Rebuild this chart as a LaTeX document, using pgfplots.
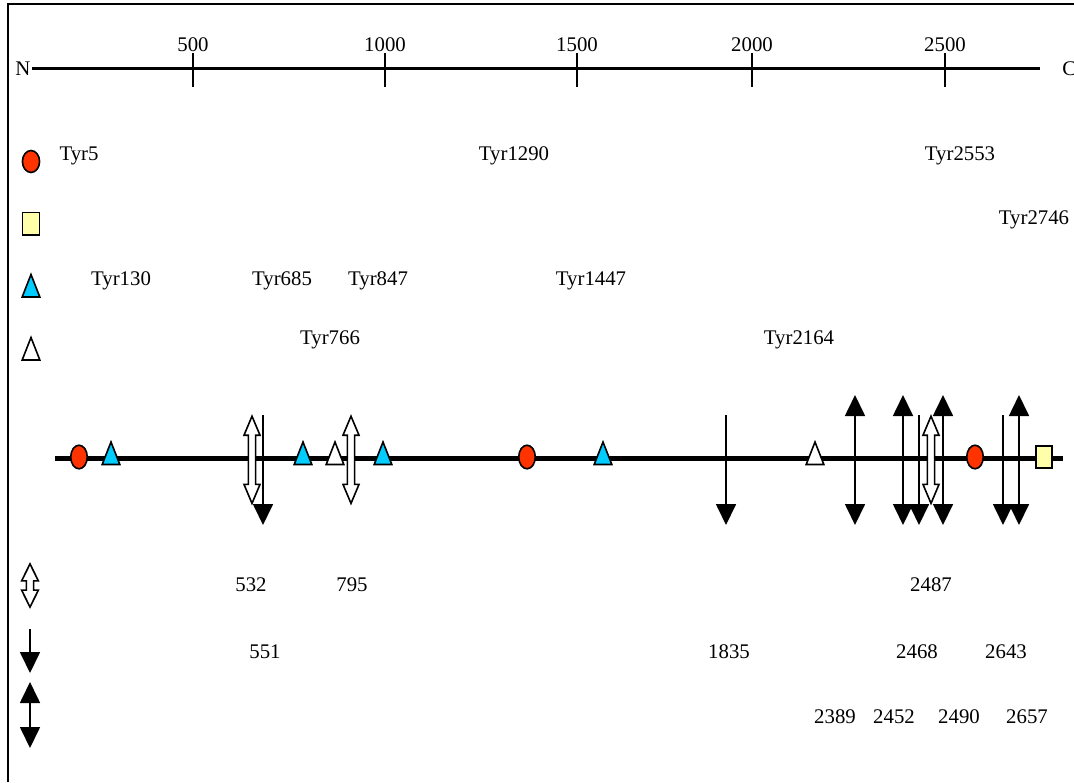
\documentclass[border=0pt]{standalone}
\usepackage{fontspec}
\setmainfont{Liberation Serif}
\usepackage{pgfplots}
\pgfplotsset{compat=1.18}
\usetikzlibrary{arrows.meta}

\definecolor{tyrred}{RGB}{255,51,0}
\definecolor{tyrblue}{RGB}{0,204,255}
\definecolor{tyryel}{RGB}{255,255,170}

% hollow double-headed block arrow (units: pt, 1px = 0.5pt)
\pgfdeclareplotmark{dblopen}{%
  \pgfpathmoveto{\pgfqpoint{0pt}{21.8pt}}%
  \pgfpathlineto{\pgfqpoint{4pt}{12.3pt}}%
  \pgfpathlineto{\pgfqpoint{1.8pt}{12.3pt}}%
  \pgfpathlineto{\pgfqpoint{1.8pt}{-12.3pt}}%
  \pgfpathlineto{\pgfqpoint{4pt}{-12.3pt}}%
  \pgfpathlineto{\pgfqpoint{0pt}{-21.8pt}}%
  \pgfpathlineto{\pgfqpoint{-4pt}{-12.3pt}}%
  \pgfpathlineto{\pgfqpoint{-1.8pt}{-12.3pt}}%
  \pgfpathlineto{\pgfqpoint{-1.8pt}{12.3pt}}%
  \pgfpathlineto{\pgfqpoint{-4pt}{12.3pt}}%
  \pgfpathclose
  \pgfusepathqfillstroke
}
% shorter version for the key
\pgfdeclareplotmark{dblopenkey}{%
  \pgfpathmoveto{\pgfqpoint{0pt}{10.8pt}}%
  \pgfpathlineto{\pgfqpoint{4.2pt}{2.3pt}}%
  \pgfpathlineto{\pgfqpoint{1.8pt}{2.3pt}}%
  \pgfpathlineto{\pgfqpoint{1.8pt}{-2.3pt}}%
  \pgfpathlineto{\pgfqpoint{4.2pt}{-2.3pt}}%
  \pgfpathlineto{\pgfqpoint{0pt}{-10.8pt}}%
  \pgfpathlineto{\pgfqpoint{-4.2pt}{-2.3pt}}%
  \pgfpathlineto{\pgfqpoint{-1.8pt}{-2.3pt}}%
  \pgfpathlineto{\pgfqpoint{-1.8pt}{2.3pt}}%
  \pgfpathlineto{\pgfqpoint{-4.2pt}{2.3pt}}%
  \pgfpathclose
  \pgfusepathqfillstroke
}

\newcommand{\lbl}{\fontsize{10.4}{12}\selectfont}

\pgfplotsset{
  redmk/.style 2 args={only marks, mark=*, mark size=#1,
    mark options={xscale=#2, fill=tyrred, draw=black, line width=0.8pt}},
  bluemk/.style 2 args={only marks, mark=triangle*, mark size=#1,
    mark options={xscale=#2, fill=tyrblue, draw=black, line width=0.8pt}},
  whitemk/.style 2 args={only marks, mark=triangle*, mark size=#1,
    mark options={xscale=#2, fill=white, draw=black, line width=0.8pt}},
  yelmk/.style 2 args={only marks, mark=square*, mark size=#1,
    mark options={xscale=#2, fill=tyryel, draw=black, line width=0.8pt}},
  openmk/.style={only marks, mark=#1,
    mark options={fill=white, draw=black, line width=0.8pt}},
  openmk/.default=dblopen,
  downarr/.style={black, line width=0.85pt, -{Triangle[width=10pt,length=10.5pt]}},
  dblarr/.style={black, line width=0.85pt,
    {Triangle[width=10pt,length=10.5pt]}-{Triangle[width=10pt,length=10.5pt]}},
}

\begin{document}
\begin{tikzpicture}
\begin{axis}[
  scale only axis,
  width=537pt, height=391pt,
  xmin=0, xmax=1074, ymin=0, ymax=782,
  y dir=reverse,
  hide axis,
]

% frame (left and top edges)
\addplot[black, line width=1pt] coordinates {(8,782) (8,4) (1074,4)};

% residue ruler
\addplot[black, line width=1.5pt] coordinates {(32,68.5) (1040,68.5)};
\addplot[black, line width=0.8pt] coordinates {(193,53) (193,87)};
\addplot[black, line width=0.8pt] coordinates {(385,53) (385,87)};
\addplot[black, line width=0.8pt] coordinates {(577,53) (577,87)};
\addplot[black, line width=0.8pt] coordinates {(752,53) (752,87)};
\addplot[black, line width=0.8pt] coordinates {(945,53) (945,87)};
\node[font=\lbl] at (193,45) {500};
\node[font=\lbl] at (385,45) {1000};
\node[font=\lbl] at (577,45) {1500};
\node[font=\lbl] at (752,45) {2000};
\node[font=\lbl] at (945,45) {2500};
\node[font=\lbl] at (23,69) {N};
\node[font=\lbl, anchor=west, inner sep=0pt] at (1062,69) {C};

% key symbols (left column)
\addplot[redmk={5.5pt}{0.78}] coordinates {(31,161.5)};
\addplot[yelmk={5.6pt}{0.76}] coordinates {(31,223.5)};
\addplot[bluemk={7.5pt}{0.68}] coordinates {(31,289.5)};
\addplot[whitemk={7.5pt}{0.68}] coordinates {(31,352.5)};
\addplot[openmk=dblopenkey] coordinates {(30,585.5)};
\addplot[downarr] coordinates {(30,629) (30,673)};
\addplot[dblarr] coordinates {(30,682) (30,748)};

% site labels
\node[font=\lbl] at (79,155.5) {Tyr5};
\node[font=\lbl] at (514,155.5) {Tyr1290};
\node[font=\lbl] at (960,155.5) {Tyr2553};
\node[font=\lbl] at (1034,220) {Tyr2746};
\node[font=\lbl] at (121,281) {Tyr130};
\node[font=\lbl] at (282,281) {Tyr685};
\node[font=\lbl] at (378,281) {Tyr847};
\node[font=\lbl] at (591,281) {Tyr1447};
\node[font=\lbl] at (330,340) {Tyr766};
\node[font=\lbl] at (799,340) {Tyr2164};

% protein backbone
\addplot[black, line width=2.5pt] coordinates {(55,458.7) (1063,458.7)};

% hollow double arrows: 532, 795, 2487
\addplot[openmk] coordinates {(252,459.8) (351,459.8) (931,459.8)};
% down arrows: 551, 1835, 2468, 2643
\addplot[downarr] coordinates {(263,415) (263,525)};
\addplot[downarr] coordinates {(726,415) (726,525)};
\addplot[downarr] coordinates {(919,415) (919,525)};
\addplot[downarr] coordinates {(1003,415) (1003,525)};
% black double arrows: 2389, 2452, 2490, 2657
\addplot[dblarr] coordinates {(855,395) (855,525)};
\addplot[dblarr] coordinates {(903,395) (903,525)};
\addplot[dblarr] coordinates {(943,395) (943,525)};
\addplot[dblarr] coordinates {(1019,395) (1019,525)};

% tyrosine sites on backbone
\addplot[redmk={5.9pt}{0.7}] coordinates {(79,457) (527,457) (975,457)};
\addplot[bluemk={7.5pt}{0.68}] coordinates {(111,457) (303,457) (383,457) (603,457)};
\addplot[whitemk={7.5pt}{0.68}] coordinates {(335,457) (815,457)};
\addplot[yelmk={5.4pt}{0.76}] coordinates {(1044,457)};

% arrow position labels
\node[font=\lbl] at (251,585) {532};
\node[font=\lbl] at (352,585) {795};
\node[font=\lbl] at (931,585) {2487};
\node[font=\lbl] at (265,652) {551};
\node[font=\lbl] at (729,652) {1835};
\node[font=\lbl] at (917,652) {2468};
\node[font=\lbl] at (1006,652) {2643};
\node[font=\lbl] at (835,717) {2389};
\node[font=\lbl] at (894,717) {2452};
\node[font=\lbl] at (959,717) {2490};
\node[font=\lbl] at (1027,717) {2657};

\end{axis}
\pgfresetboundingbox
\path (current axis.south west) rectangle (current axis.north east);
\end{tikzpicture}
\end{document}
